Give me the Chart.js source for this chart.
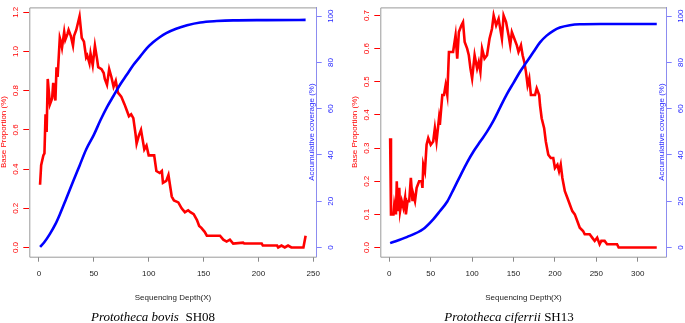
<!DOCTYPE html>
<html>
<head>
<meta charset="utf-8">
<script src="https://cdn.jsdelivr.net/npm/chart.js@4.4.0/dist/chart.umd.min.js"></script>
<style>
  body { margin:0; width:685px; height:323px; background:#fff; position:relative; overflow:hidden; }
  canvas { position:absolute; top:0; }
  .cap { position:absolute; top:309px; font-family:"Liberation Serif", serif; font-size:13px; line-height:15px;
         white-space:nowrap; transform:translateX(-50%); color:#000; }
</style>
</head>
<body>
<canvas id="bovis" width="345" height="323" style="left:0"></canvas>
<canvas id="ciferrii" width="334" height="323" style="left:351px"></canvas>
<div class="cap" style="left:153px"><i>Prototheca bovis</i>&nbsp; SH08</div>
<div class="cap" style="left:509px"><i>Prototheca ciferrii</i>&nbsp;SH13</div>
<script>
// tick labels
const bovisDepthTicks = [0, 50, 100, 150, 200, 250]
const ciferriiDepthTicks = [0, 50, 100, 150, 200, 250, 300]
const bovisPropTicks = [0, 0.2, 0.4, 0.6, 0.8, 1.0, 1.2]
const ciferriiPropTicks = [0, 0.1, 0.2, 0.3, 0.4, 0.5, 0.6, 0.7]
const coverTicks = [0, 20, 40, 60, 80, 100]

// P. bovis SH08 - base proportion (%) by depth
const bovisDepth = [1, 2, 4, 5, 6, 7, 8, 10, 12, 13, 15, 16, 17, 19, 20, 21, 23, 24, 26, 27, 29, 31, 32, 34, 37, 39, 41, 43, 44, 46, 47, 49, 51, 53, 54, 57, 59, 60, 62, 64, 66, 68, 70, 72, 75, 78, 80, 82, 84, 86, 88, 89, 91, 93, 96, 98, 100, 103, 105, 107, 110, 112, 113, 116, 118, 121, 123, 127, 130, 133, 136, 138, 141, 144, 146, 148, 151, 153, 159, 165, 168, 171, 174, 177, 186, 187, 203, 204, 217, 218, 221, 224, 227, 230, 241, 243]
const bovisProp = [0.32, 0.42, 0.47, 0.48, 0.68, 0.59, 0.86, 0.73, 0.76, 0.84, 0.75, 0.92, 0.87, 1.07, 1.05, 1.02, 1.10, 1.06, 1.09, 1.11, 1.08, 1.03, 1.08, 1.11, 1.18, 1.07, 1.05, 0.97, 0.98, 0.94, 0.99, 0.93, 1.03, 0.96, 0.92, 0.91, 0.89, 0.86, 0.83, 0.91, 0.87, 0.82, 0.85, 0.79, 0.77, 0.73, 0.70, 0.67, 0.68, 0.66, 0.58, 0.53, 0.57, 0.60, 0.50, 0.52, 0.47, 0.47, 0.47, 0.39, 0.38, 0.39, 0.33, 0.34, 0.37, 0.26, 0.24, 0.23, 0.20, 0.18, 0.19, 0.18, 0.17, 0.14, 0.11, 0.10, 0.08, 0.06, 0.06, 0.06, 0.04, 0.03, 0.04, 0.02, 0.025, 0.02, 0.02, 0.01, 0.01, 0, 0.01, 0, 0.01, 0, 0, 0.06]
// P. bovis SH08 - accumulative coverage (%)
const bovisCovDepth = [1, 5, 10, 15, 19, 25, 31, 37, 43, 50, 56, 62, 68, 74, 80, 86, 92, 98, 104, 110, 116, 125, 135, 147, 162, 177, 207, 243]
const bovisCov = [0.3, 2.4, 5.9, 10.1, 14.3, 21.3, 28.4, 35.4, 42.4, 48.7, 55, 60.7, 65.6, 70.5, 74.7, 78.9, 82.4, 86, 88.7, 90.9, 92.7, 94.6, 96.1, 97.3, 97.9, 98.2, 98.3, 98.4]

// P. ciferrii SH13 - base proportion (%) by depth
const ciferriiDepth = [1, 2, 5, 6, 8, 9, 10, 12, 13, 15, 17, 19, 20, 22, 24, 26, 28, 29, 31, 33, 36, 39, 40, 41, 43, 45, 47, 50, 53, 55, 57, 60, 61, 64, 66, 68, 70, 72, 77, 80, 82, 84, 87, 89, 91, 94, 96, 98, 100, 103, 106, 108, 110, 112, 115, 118, 121, 124, 126, 129, 132, 134, 136, 138, 141, 144, 146, 148, 151, 154, 156, 159, 161, 163, 165, 167, 169, 171, 176, 178, 181, 182, 184, 187, 189, 192, 195, 198, 200, 203, 205, 207, 209, 212, 215, 218, 221, 224, 227, 230, 234, 236, 242, 245, 248, 251, 254, 256, 260, 263, 275, 277, 323]
const ciferriiProp = [0.33, 0.10, 0.10, 0.13, 0.10, 0.20, 0.11, 0.18, 0.11, 0.14, 0.12, 0.15, 0.10, 0.14, 0.14, 0.21, 0.14, 0.16, 0.14, 0.18, 0.20, 0.20, 0.18, 0.25, 0.23, 0.31, 0.33, 0.31, 0.32, 0.36, 0.32, 0.39, 0.37, 0.46, 0.46, 0.49, 0.46, 0.59, 0.59, 0.64, 0.57, 0.65, 0.67, 0.68, 0.62, 0.60, 0.58, 0.54, 0.51, 0.58, 0.54, 0.56, 0.53, 0.60, 0.57, 0.58, 0.63, 0.66, 0.70, 0.67, 0.69, 0.66, 0.63, 0.70, 0.68, 0.64, 0.61, 0.65, 0.63, 0.61, 0.59, 0.61, 0.58, 0.56, 0.53, 0.49, 0.51, 0.46, 0.46, 0.48, 0.46, 0.43, 0.39, 0.36, 0.32, 0.28, 0.27, 0.27, 0.24, 0.25, 0.23, 0.25, 0.21, 0.17, 0.15, 0.13, 0.11, 0.10, 0.08, 0.06, 0.05, 0.04, 0.04, 0.03, 0.02, 0.03, 0.01, 0.02, 0.02, 0.01, 0.01, 0, 0]
// P. ciferrii SH13 - accumulative coverage (%)
const ciferriiCovDepth = [1, 21, 41, 53, 61, 70, 78, 86, 94, 102, 110, 118, 126, 134, 142, 150, 158, 166, 174, 182, 190, 198, 206, 218, 230, 255, 323]
const ciferriiCov = [1.9, 4.5, 8, 12.2, 15.7, 19.9, 25.5, 31.2, 36.8, 41.7, 45.9, 50.1, 55, 60.7, 66.3, 71.2, 76.1, 80.3, 84.5, 88.7, 91.6, 93.7, 95.1, 96.1, 96.5, 96.6, 96.6]

const FONT = 'Liberation Sans'
const RED = '#ff0000'
const BLUE = '#0000ff'

function toPoints(xs, ys) {
  return xs.map((x, i) => ({x: x, y: ys[i]}))
}

// grey box round the plot, right edge is left to the blue axis
const framePlugin = {
  id: 'frame',
  afterDatasetsDraw(chart) {
    const {ctx, chartArea: a} = chart
    ctx.save()
    ctx.strokeStyle = '#9a9a9a'
    ctx.lineWidth = 1
    ctx.beginPath()
    ctx.moveTo(a.right, a.top + 0.5)
    ctx.lineTo(a.left + 0.5, a.top + 0.5)
    ctx.lineTo(a.left + 0.5, a.bottom + 0.5)
    ctx.lineTo(a.right, a.bottom + 0.5)
    ctx.stroke()
    ctx.restore()
  }
}

// right axis title sits inside the box and reads bottom to top
const coverTitlePlugin = {
  id: 'coverTitle',
  afterDraw(chart) {
    const {ctx, chartArea: a} = chart
    ctx.save()
    ctx.translate(a.right - 4.7, (a.top + a.bottom) / 2)
    ctx.rotate(-Math.PI / 2)
    ctx.fillStyle = '#2a2aff'
    ctx.font = '8px "' + FONT + '"'
    ctx.textAlign = 'center'
    ctx.textBaseline = 'middle'
    ctx.fillText('Accumulative coverage (%)', 0, 0)
    ctx.restore()
  }
}

function drawPanel(id, p) {
  const font = {family: FONT, size: 8}
  new Chart(document.getElementById(id), {
    type: 'line',
    data: {
      datasets: [
        {data: toPoints(p.covDepth, p.cov), yAxisID: 'y1', borderColor: BLUE, borderWidth: 2.6,
         pointRadius: 0, cubicInterpolationMode: 'monotone', order: 0},
        {data: toPoints(p.depth, p.prop), yAxisID: 'y', borderColor: RED, borderWidth: 2.6,
         pointRadius: 0, order: 1}
      ]
    },
    options: {
      responsive: false,
      animation: false,
      devicePixelRatio: 1,
      layout: {padding: {top: 1, left: 0, right: 0, bottom: 0}},
      plugins: {legend: {display: false}, tooltip: {enabled: false}},
      scales: {
        x: {
          type: 'linear', min: p.xMin, max: p.xMax,
          afterBuildTicks: s => { s.ticks = p.xTicks.map(v => ({value: v})) },
          afterFit: s => { s.height = 66.3 },
          grid: {drawOnChartArea: false, tickLength: 5, tickColor: '#8a8a8a'},
          border: {display: false},
          ticks: {color: '#222', font: font, padding: 7, maxRotation: 0, autoSkip: false,
                  callback: v => String(v)},
          title: {display: true, text: 'Sequencing Depth(X)', color: '#222',
                  font: {family: FONT, size: 8, lineHeight: 1}, padding: {top: 0, bottom: 21}}
        },
        y: {
          position: 'left', min: p.yMin, max: p.yMax,
          afterBuildTicks: s => { s.ticks = p.yTicks.map(v => ({value: v})) },
          afterFit: s => { s.width = 29.3 },
          grid: {drawOnChartArea: false, tickLength: 6, tickColor: RED},
          border: {display: false},
          ticks: {color: RED, font: font, padding: 2.4, minRotation: 90, maxRotation: 90,
                  crossAlign: 'center', autoSkip: false, callback: v => v.toFixed(1)},
          title: {display: true, text: 'Base Proportion (%)', color: RED,
                  font: {family: FONT, size: 8, lineHeight: 1}, padding: 0}
        },
        y1: {
          position: 'right', min: -3.96, max: 103.8,
          afterBuildTicks: s => { s.ticks = coverTicks.map(v => ({value: v})) },
          afterFit: s => { s.width = p.rightWidth },
          grid: {drawOnChartArea: false, tickLength: 5, tickColor: '#7f7fff'},
          border: {display: true, color: '#8c8cf0', width: 1},
          ticks: {color: '#2a2aff', font: font, padding: 2.6, minRotation: 90, maxRotation: 90,
                  crossAlign: 'center', autoSkip: false, callback: v => String(v)}
        }
      }
    },
    plugins: [framePlugin, coverTitlePlugin]
  })
}

window.onload = () => {
  drawPanel('bovis', {
    depth: bovisDepth, prop: bovisProp, covDepth: bovisCovDepth, cov: bovisCov,
    xTicks: bovisDepthTicks, yTicks: bovisPropTicks,
    xMin: -8.8, xMax: 253.1, yMin: -0.047, yMax: 1.225, rightWidth: 28.3
  })
  drawPanel('ciferrii', {
    depth: ciferriiDepth, prop: ciferriiProp, covDepth: ciferriiCovDepth, cov: ciferriiCov,
    xTicks: ciferriiDepthTicks, yTicks: ciferriiPropTicks,
    xMin: -10.9, xMax: 335, yMin: -0.0276, yMax: 0.7244, rightWidth: 18.3
  })
}
</script>
</body>
</html>
